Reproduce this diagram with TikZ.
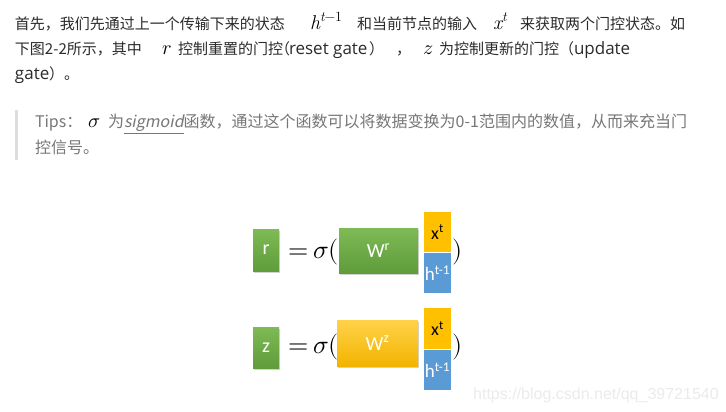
\documentclass[tikz,border=0pt]{standalone}
\usepackage{fontspec}
\setmainfont{Noto Sans CJK SC}
\newfontfamily\slantcjk[FakeSlant=0.2]{Noto Sans CJK SC}
\newfontfamily\latinf{Open Sans}
\newfontfamily\mfont{Latin Modern Math}
\newfontfamily\lmr{Latin Modern Roman}
\newfontfamily\carl{Carlito}
\newfontfamily\wmfont{Liberation Sans}
\usetikzlibrary{shadows}
\definecolor{maintext}{HTML}{2B2B2B}
\definecolor{tipgray}{HTML}{777777}
\definecolor{barg}{HTML}{DDDDDD}
\definecolor{gtop}{HTML}{7EBB56}
\definecolor{gbot}{HTML}{5F9C3A}
\definecolor{otop}{HTML}{FFD24A}
\definecolor{obot}{HTML}{F2B400}
\definecolor{oflat}{HTML}{FFC000}
\definecolor{bflat}{HTML}{5B9BD5}
\definecolor{wmark}{HTML}{EBEBEB}
\newcommand\msup[1]{\raisebox{8pt}{\fontsize{14}{16}\selectfont #1}}
\begin{document}
\begin{tikzpicture}[x=1pt,y=-1pt,
  txt/.style={anchor=base west, inner sep=0pt, outer sep=0pt, text=maintext, font=\fontsize{15}{18}\selectfont},
  lat/.style={anchor=base west, inner sep=0pt, outer sep=0pt, text=maintext, font=\latinf\fontsize{17}{19}\selectfont},
  tip/.style={anchor=base west, inner sep=0pt, outer sep=0pt, text=tipgray, font=\fontsize{16}{19}\selectfont},
  mth/.style={anchor=base west, inner sep=0pt, outer sep=0pt, text=black, font=\mfont\fontsize{20}{22}\selectfont},
  itm/.style={anchor=base west, inner sep=0pt, outer sep=0pt, text=black, font=\lmr\itshape\fontsize{20}{22}\selectfont},
  bigm/.style={anchor=base west, inner sep=0pt, outer sep=0pt, text=black, font=\mfont\fontsize{26}{30}\selectfont},
  box/.style={inner sep=0pt, outer sep=0pt, font=\carl\fontsize{20}{24}\selectfont, text=white},
  shad/.style={drop shadow={opacity=0.35, shadow xshift=1.2pt, shadow yshift=-1.5pt}},
  gbox/.style={box, shad, top color=gtop, bottom color=gbot},
  obox/.style={box, shad, top color=otop, bottom color=obot},
  xbox/.style={box, fill=oflat, text=black, font=\carl\fontsize{18}{22}\selectfont},
  hbox/.style={box, fill=bflat, font=\carl\fontsize{19}{22}\selectfont}]
\useasboundingbox (0,0) rectangle (726,412);
\fill[white] (0,0) rectangle (726,412);

% paragraph
\node[txt] (l1a) at (15,30) {首先，我们先通过上一个传输下来的状态};
\node[itm] (l1b) at (310,30) {h\msup{t\upshape−1}};
\node[txt] (l1c) at (357,30) {和当前节点的输入};
\node[itm] (l1d) at (493,30) {x\msup{t}};
\node[txt] (l1e) at (520,30) {来获取两个门控状态。如};

\node[txt] (l2a) at (15,55) {下图2-2所示，其中};
\node[mth] (l2b) at (162,55) {𝑟};
\node[txt] (l2c) at (178,55) {控制重置的门控};
\node[txt] (l2d) at (275,55) {（};
\node[lat] (l2e) at (289,55) {reset gate};
\node[txt] (l2f) at (369,55) {）};
\node[txt] (l2g) at (396,55) {，};
\node[mth] (l2h) at (423,55) {𝑧};
\node[txt] (l2i) at (439,55) {为控制更新的门控（};
\node[lat] (l2j) at (574,55) {update};

\node[lat] (l3a) at (15,80) {gate};
\node[txt] (l3b) at (49,80) {）。};

% tips block
\fill[barg] (15,110) rectangle (18,160);
\node[tip] (t1) at (35,128) {Tips：};
\node[mth] (t2) at (88,128) {𝜎};
\node[tip] (t3) at (108,128) {为\underline{\slantcjk sigmoid}函数，通过这个函数可以将数据变换为0-1范围内的数值，从而来充当门};
\node[tip] (t4) at (35,153) {控信号。};

% equation 1
\node[gbox, minimum width=26pt, minimum height=42pt] (r) at (266,250) {r};
\node[bigm] (eq1) at (288,258) {=\hspace{5pt}𝜎(};
\node[gbox, minimum width=79pt, minimum height=45pt] (wr) at (378.5,250.5) {W\textsuperscript{r}};
\node[xbox, minimum width=27pt, minimum height=40pt] (x1) at (437.5,232) {x\textsuperscript{t}};
\node[hbox, minimum width=27pt, minimum height=40pt] (h1) at (437.5,273) {h\textsuperscript{t-1}};
\node[bigm] (cp1) at (452,258) {)};

% equation 2
\node[gbox, minimum width=26pt, minimum height=41pt] (z) at (266,347.5) {z};
\node[bigm] (eq2) at (288,353) {=\hspace{5pt}𝜎(};
\node[obox, minimum width=81pt, minimum height=46pt] (wz) at (377.5,343) {W\textsuperscript{z}};
\node[xbox, minimum width=27pt, minimum height=41pt] (x2) at (437.5,328.5) {x\textsuperscript{t}};
\node[hbox, minimum width=27pt, minimum height=40pt] (h2) at (437.5,370) {h\textsuperscript{t-1}};
\node[bigm] (cp2) at (452,353) {)};

% watermark
\node[anchor=base west, inner sep=0pt, text=wmark, font=\wmfont\fontsize{16}{19}\selectfont] (wm) at (473,399) {https://blog.csdn.net/qq\_39721540};
\end{tikzpicture}
\end{document}
